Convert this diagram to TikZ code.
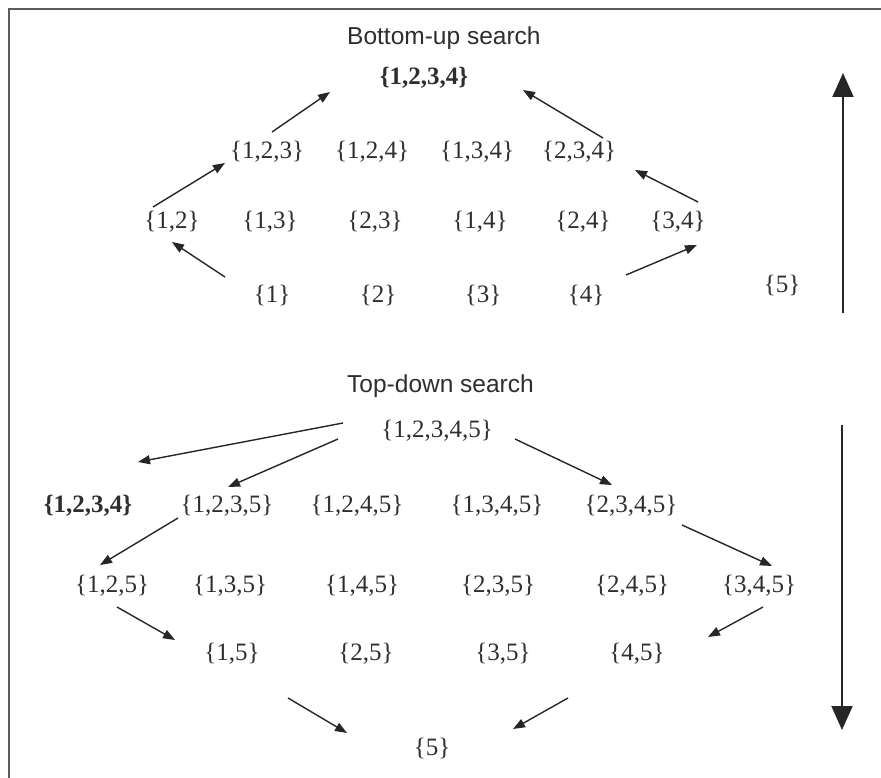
\documentclass[tikz,border=0pt]{standalone}
\usepackage{fontspec}
\setmainfont{Liberation Serif}
\newfontfamily\titlefont{Liberation Sans}
\usetikzlibrary{arrows.meta}
\definecolor{txt}{HTML}{2E2E2E}
\definecolor{ln}{HTML}{262626}
\definecolor{frm}{HTML}{5C5C5C}
\begin{document}
\begin{tikzpicture}[x=1pt,y=-1pt,
 set/.style={font=\fontsize{25}{30}\selectfont, text=txt, inner sep=0pt, anchor=center},
 bset/.style={set, font=\fontsize{25}{30}\selectfont\bfseries},
 ttl/.style={font=\titlefont\fontsize{24.5}{29}\selectfont, text=txt, inner sep=0pt, anchor=base west},
 arr/.style={draw=ln, line width=1.4pt, -{Triangle[length=12pt,width=9pt]}},
 bigarr/.style={draw=ln, line width=2pt, -{Triangle[length=24pt,width=21pt]}},
 frame/.style={draw=frm, line width=2pt}
]
\useasboundingbox (0,0) rectangle (881,778);
% frame
\coordinate (fl) at (9,778);
\coordinate (fc) at (9,9);
\coordinate (fr) at (881,9);
\draw[frame] (fl) -- (fc) -- (fr);

% titles
\node[ttl] (tbu) at (347,45) {Bottom-up search};
\node[ttl] (ttd) at (347,392) {Top-down search};

% bottom-up lattice
\node[bset] (t1234) at (424,78) {\{1,2,3,4\}};
\node[set] (n123) at (267,152) {\{1,2,3\}};
\node[set] (n124) at (372,152) {\{1,2,4\}};
\node[set] (n134) at (477,152) {\{1,3,4\}};
\node[set] (n234) at (579,152) {\{2,3,4\}};
\node[set] (n12) at (172,222) {\{1,2\}};
\node[set] (n13) at (270,222) {\{1,3\}};
\node[set] (n23) at (375,222) {\{2,3\}};
\node[set] (n14) at (480,222) {\{1,4\}};
\node[set] (n24) at (583,222) {\{2,4\}};
\node[set] (n34) at (678,222) {\{3,4\}};
\node[set] (n1) at (272,295) {\{1\}};
\node[set] (n2) at (378,295) {\{2\}};
\node[set] (n3) at (483,295) {\{3\}};
\node[set] (n4) at (586,295) {\{4\}};
\node[set] (n5) at (782,285) {\{5\}};

% top-down lattice
\node[set] (b12345) at (437,431) {\{1,2,3,4,5\}};
\node[bset] (b1234) at (88,506) {\{1,2,3,4\}};
\node[set] (b1235) at (227,506) {\{1,2,3,5\}};
\node[set] (b1245) at (357,506) {\{1,2,4,5\}};
\node[set] (b1345) at (497,506) {\{1,3,4,5\}};
\node[set] (b2345) at (631,506) {\{2,3,4,5\}};
\node[set] (b125) at (112,586) {\{1,2,5\}};
\node[set] (b135) at (230,586) {\{1,3,5\}};
\node[set] (b145) at (362,586) {\{1,4,5\}};
\node[set] (b235) at (498,586) {\{2,3,5\}};
\node[set] (b245) at (632,586) {\{2,4,5\}};
\node[set] (b345) at (759,586) {\{3,4,5\}};
\node[set] (b15) at (232,654) {\{1,5\}};
\node[set] (b25) at (366,654) {\{2,5\}};
\node[set] (b35) at (503,654) {\{3,5\}};
\node[set] (b45) at (637,654) {\{4,5\}};
\node[set] (b5) at (432,748) {\{5\}};

% arrow end points (upper)
\coordinate (a1s) at (272,132); \coordinate (a1e) at (330,92);
\coordinate (a2s) at (603,138); \coordinate (a2e) at (523,90);
\coordinate (a3s) at (153,207); \coordinate (a3e) at (225,163);
\coordinate (a4s) at (225,277); \coordinate (a4e) at (172,242);
\coordinate (a5s) at (698,202); \coordinate (a5e) at (635,170);
\coordinate (a6s) at (626,275); \coordinate (a6e) at (697,245);
\coordinate (ups) at (843,313); \coordinate (upe) at (843,73);
% arrow end points (lower)
\coordinate (c1s) at (343,423); \coordinate (c1e) at (138,462);
\coordinate (c2s) at (338,439); \coordinate (c2e) at (228,487);
\coordinate (c3s) at (515,439); \coordinate (c3e) at (612,485);
\coordinate (c4s) at (178,518); \coordinate (c4e) at (100,565);
\coordinate (c5s) at (682,525); \coordinate (c5e) at (772,566);
\coordinate (c6s) at (117,607); \coordinate (c6e) at (175,640);
\coordinate (c7s) at (763,607); \coordinate (c7e) at (708,637);
\coordinate (c8s) at (288,698); \coordinate (c8e) at (347,733);
\coordinate (c9s) at (568,698); \coordinate (c9e) at (513,729);
\coordinate (dns) at (842,425); \coordinate (dne) at (842,730);

\foreach \s/\e in {a1s/a1e,a2s/a2e,a3s/a3e,a4s/a4e,a5s/a5e,a6s/a6e,
  c1s/c1e,c2s/c2e,c3s/c3e,c4s/c4e,c5s/c5e,c6s/c6e,c7s/c7e,c8s/c8e,c9s/c9e}
  \draw[arr] (\s) -- (\e);
\draw[bigarr] (ups) -- (upe);
\draw[bigarr] (dns) -- (dne);
\end{tikzpicture}
\end{document}
